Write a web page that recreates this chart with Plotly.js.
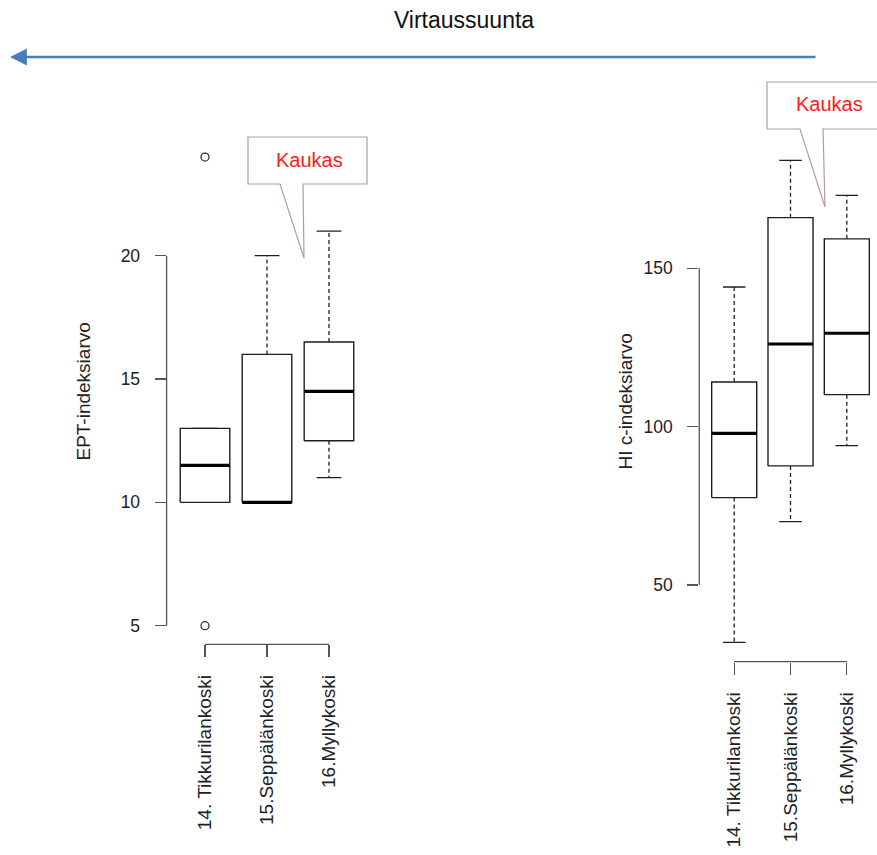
<!DOCTYPE html>
<html>
<head>
<meta charset="utf-8">
<script src="https://cdn.plot.ly/plotly-3.0.1.min.js"></script>
<style>html,body{margin:0;padding:0;background:#fff;}#chart{width:877px;height:855px;}</style>
</head>
<body>
<div id="chart"></div>
<script>
// ---- data ----
const sites = ['14. Tikkurilankoski', '15.Seppälänkoski', '16.Myllykoski'];

const eptLower  = [10, 10, 11];
const eptQ1     = [10, 10, 12.5];
const eptMedian = [11.5, 10, 14.5];
const eptQ3     = [13, 16, 16.5];
const eptUpper  = [13, 20, 21];
const eptOutlierSite  = [0, 0];
const eptOutlierValue = [24, 5];
const eptTicks = [5, 10, 15, 20];

const hiLower  = [31.9, 70, 94];
const hiQ1     = [77.6, 87.6, 110.1];
const hiMedian = [97.9, 126.1, 129.5];
const hiQ3     = [114.1, 166, 159.3];
const hiUpper  = [144.1, 184.1, 173];
const hiTicks  = [50, 100, 150];

const titleText = 'Virtaussuunta';
const calloutText = 'Kaukas';

// ---- helpers ----
const W = 877, H = 855;
const px = x => x / W;
const py = y => 1 - y / H;
const BOX_HW = 0.4, CAP_HW = 0.2;
const BOXCOL = '#1e1e1e', AXCOL = '#555';
const FONT = 'Liberation Sans, Arial, Helvetica, sans-serif';

function boxTraces(xa, ya, name, lower, q1, med, q3, upper) {
  const pos = sites.map((_, i) => i);
  const bx = [], by = [], mx = [], my = [], wx = [], wy = [], cx = [], cy = [];
  pos.forEach((c, i) => {
    bx.push(c - BOX_HW, c + BOX_HW, c + BOX_HW, c - BOX_HW, c - BOX_HW, null);
    by.push(q1[i], q1[i], q3[i], q3[i], q1[i], null);
    mx.push(c - BOX_HW, c + BOX_HW, null);
    my.push(med[i], med[i], null);
    wx.push(c, c, null, c, c, null);
    wy.push(q3[i], upper[i], null, q1[i], lower[i], null);
    cx.push(c - CAP_HW, c + CAP_HW, null, c - CAP_HW, c + CAP_HW, null);
    cy.push(upper[i], upper[i], null, lower[i], lower[i], null);
  });
  const common = {xaxis: xa, yaxis: ya, mode: 'lines', hoverinfo: 'skip', showlegend: false};
  return [
    Object.assign({}, common, {name: name + ' whiskers', x: wx, y: wy, line: {color: BOXCOL, width: 1.3, dash: '4px,3px'}}),
    Object.assign({}, common, {name: name + ' caps', x: cx, y: cy, line: {color: BOXCOL, width: 1.3}}),
    Object.assign({}, common, {name: name + ' boxes', x: bx, y: by, fill: 'toself', fillcolor: '#ffffff', line: {color: BOXCOL, width: 1.4}}),
    Object.assign({}, common, {name: name + ' medians', x: mx, y: my, line: {color: '#000', width: 3.2}})
  ];
}

const traces = [].concat(
  boxTraces('x', 'y', 'EPT', eptLower, eptQ1, eptMedian, eptQ3, eptUpper),
  [{
    xaxis: 'x', yaxis: 'y', type: 'scatter', mode: 'markers', showlegend: false,
    name: 'EPT outliers', x: eptOutlierSite, y: eptOutlierValue,
    marker: {symbol: 'circle-open', size: 8, color: '#333', line: {width: 1.3, color: '#333'}}
  }],
  boxTraces('x2', 'y2', 'HI', hiLower, hiQ1, hiMedian, hiQ3, hiUpper)
);

function xAxis(domain, range, anchor) {
  return {
    domain: domain, range: range, anchor: anchor,
    tickmode: 'array', tickvals: sites.map((_, i) => i), ticktext: sites,
    tickangle: -90, ticks: 'outside', ticklen: 12, tickwidth: 1.3, tickcolor: AXCOL,
    ticklabelstandoff: 10,
    tickfont: {family: FONT, size: 19, color: '#222'},
    showline: false, showgrid: false, zeroline: false, automargin: false, fixedrange: true
  };
}
function yAxis(domain, range, anchor, ticks, title, standoff) {
  return {
    domain: domain, range: range, anchor: anchor,
    tickmode: 'array', tickvals: ticks, ticktext: ticks.map(String),
    ticks: 'outside', ticklen: 11, tickwidth: 1.3, tickcolor: AXCOL,
    ticklabelstandoff: 11,
    tickfont: {family: FONT, size: 17.5, color: '#222'},
    title: {text: title, font: {family: FONT, size: 19, color: '#222'}, standoff: standoff},
    showline: false, showgrid: false, zeroline: false, automargin: false, fixedrange: true
  };
}

function axisLineShapes(xa, ya, ticks) {
  return [
    {type: 'line', xref: xa + ' domain', yref: ya, x0: 0, x1: 0, y0: ticks[0], y1: ticks[ticks.length - 1], line: {color: AXCOL, width: 1.3}},
    {type: 'line', xref: xa, yref: ya + ' domain', x0: 0, x1: sites.length - 1, y0: 0, y1: 0, line: {color: AXCOL, width: 1.3}}
  ];
}

function calloutPath(pts) {
  return 'M' + pts.map(p => px(p[0]).toFixed(5) + ',' + py(p[1]).toFixed(5)).join(' L') + ' Z';
}
const calloutStyle = {type: 'path', xref: 'paper', yref: 'paper', fillcolor: '#ffffff', line: {color: '#b49c9c', width: 1.2}, layer: 'above'};

const shapes = [].concat(
  axisLineShapes('x', 'y', eptTicks),
  axisLineShapes('x2', 'y2', hiTicks),
  [
    Object.assign({}, calloutStyle, {path: calloutPath([[248,137],[367,137],[367,184],[303,184],[304,258],[280,184],[248,184]])}),
    Object.assign({}, calloutStyle, {path: calloutPath([[767,82],[882,82],[882,129],[823,129],[825,207],[800,129],[767,129]])})
  ]
);

const annotations = [
  {xref: 'paper', yref: 'paper', x: px(10), y: py(57), ax: 807, ay: 0, text: '',
   showarrow: true, arrowhead: 2, arrowsize: 1.3, arrowwidth: 2.6, arrowcolor: '#4a7ebb', standoff: 0},
  {xref: 'paper', yref: 'paper', x: px(309), y: py(160), text: calloutText, showarrow: false,
   font: {family: FONT, size: 20, color: '#ff1a1a'}, xanchor: 'center', yanchor: 'middle'},
  {xref: 'paper', yref: 'paper', x: px(829), y: py(104), text: calloutText, showarrow: false,
   font: {family: FONT, size: 20, color: '#ff1a1a'}, xanchor: 'center', yanchor: 'middle'}
];

const layout = {
  width: W, height: H,
  margin: {l: 0, r: 0, t: 0, b: 0},
  paper_bgcolor: '#ffffff', plot_bgcolor: 'rgba(0,0,0,0)',
  showlegend: false,
  title: {text: titleText, x: px(464), y: py(20), xref: 'paper', yref: 'paper', xanchor: 'center', yanchor: 'middle',
          font: {family: FONT, size: 23, color: '#111'}},
  xaxis: xAxis([px(166.6), px(367.4)], [-0.62, 2.62], 'y'),
  yaxis: yAxis([py(644.4), py(138.3)], [4.242, 24.76], 'x', eptTicks, 'EPT-indeksiarvo', 24),
  xaxis2: xAxis([px(699.3), 1], [-0.62, 2.536], 'y2'),
  yaxis2: yAxis([py(661.7), py(141)], [25.78, 190.2], 'x2', hiTicks, 'HI c-indeksiarvo', 5),
  shapes: shapes,
  annotations: annotations
};

Plotly.newPlot('chart', traces, layout, {displayModeBar: false, staticPlot: true});
</script>
</body>
</html>
